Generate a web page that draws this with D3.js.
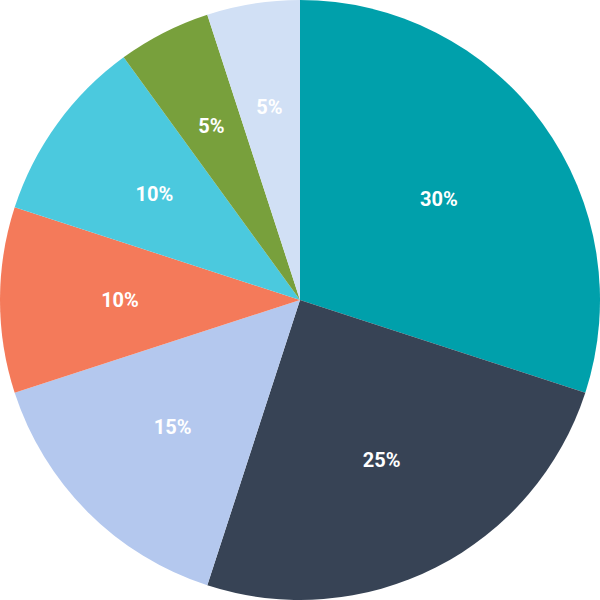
<!DOCTYPE html>
<html><head><meta charset="utf-8">
<script src="https://cdn.jsdelivr.net/npm/d3@7"></script>
<style>html,body{margin:0;padding:0;background:#fff;}</style>
</head><body>
<svg id="c" width="600" height="600"></svg>
<script>
const categories = ["A","B","C","D","E","F","G"];
const values = [30, 25, 15, 10, 10, 5, 5];
const labels = ["30%","25%","15%","10%","10%","5%","5%"];
const colors = ["#00A0AB","#374355","#B4C8EE","#F47A5A","#4BC9DE","#78A03C","#D1E0F5"];

const svg = d3.select("#c");
const R = 300;
const g = svg.append("g").attr("transform","translate(300,300)");
const pie = d3.pie().sort(null).value(d=>d);
const arcs = pie(values);
const arc = d3.arc().innerRadius(0).outerRadius(R);
g.selectAll("path").data(arcs).join("path")
  .attr("d", arc).attr("fill",(d,i)=>colors[i]);

function labelPos(d){
  const a = d.endAngle - d.startAngle;
  const centroid = 4*R*Math.sin(a/2)/(3*a);
  const r = a < 0.35 ? centroid*0.98 : Math.min(centroid, R*0.6);
  const m = (d.startAngle + d.endAngle)/2;
  return [Math.sin(m)*r, -Math.cos(m)*r];
}
const fs = 20;
g.selectAll("text").data(arcs).join("text")
  .attr("transform", d=>`translate(${labelPos(d)})`)
  .attr("text-anchor","middle").attr("dy", fs*0.355)
  .attr("fill","#fff").attr("font-family","Roboto, sans-serif")
  .attr("font-weight","bold").attr("font-size",fs)
  .text((d,i)=>labels[i]);
</script>
</body></html>
